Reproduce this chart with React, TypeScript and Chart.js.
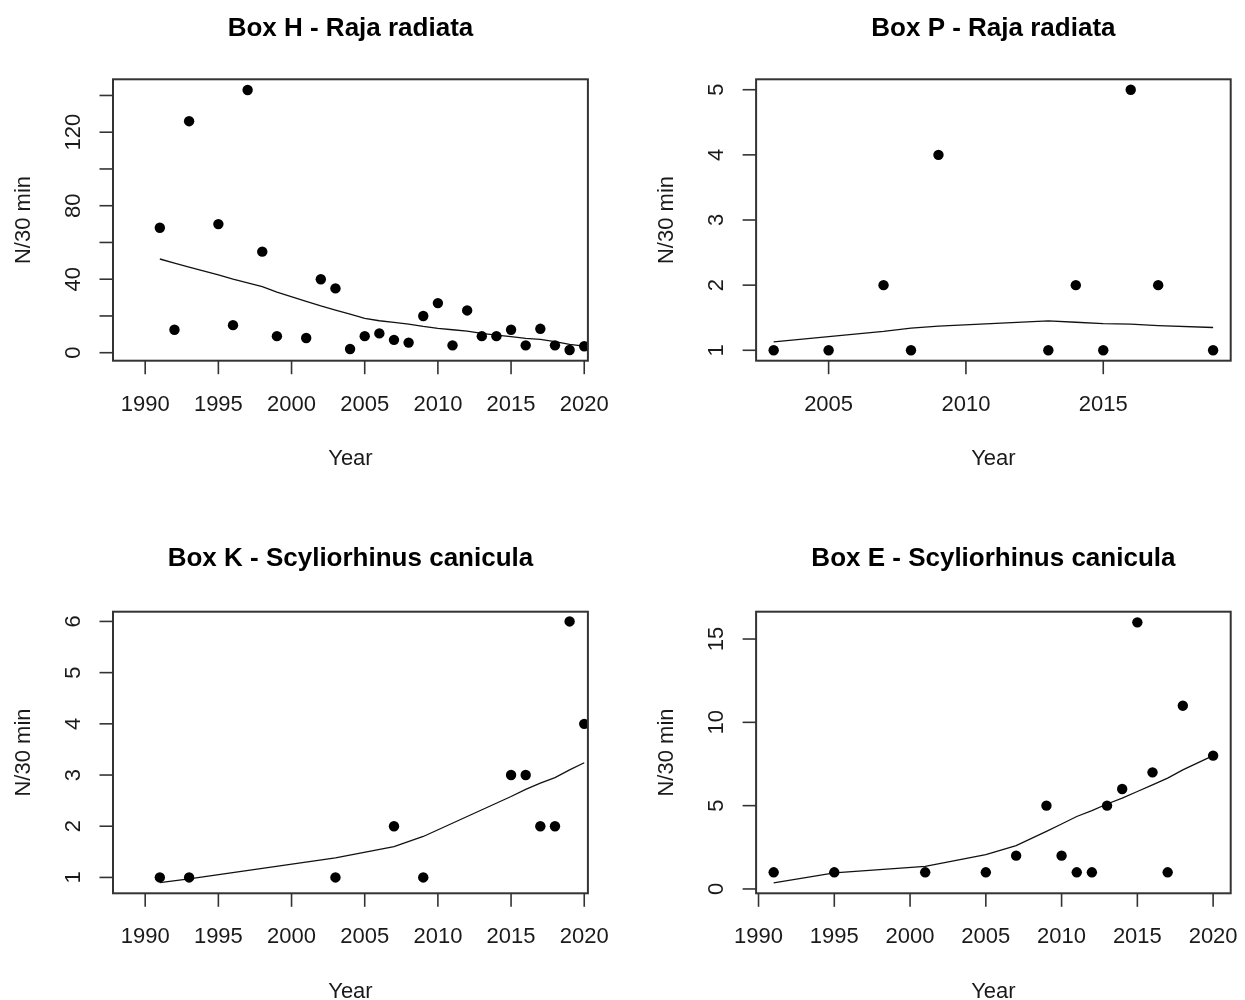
import React, { useEffect, useRef } from "react";
import { Chart, registerables } from "chart.js";
Chart.register(...registerables);

// ---------- Data ----------
// Box H - Raja radiata
const hYears = [1991, 1992, 1993, 1995, 1996, 1997, 1998, 1999, 2001, 2002, 2003, 2004, 2005, 2006, 2007, 2008, 2009, 2010, 2011, 2012, 2013, 2014, 2015, 2016, 2017, 2018, 2019, 2020];
const hCounts = [68, 12.5, 126, 70, 15, 143, 55, 9, 8, 40, 35, 2, 9, 10.5, 7, 5.5, 20, 27, 4, 23, 9, 9, 12.5, 4, 13, 4, 1.5, 3.5];
const hTrend = [51, 48.8, 46.6, 42.3, 40, 38, 36, 33, 28, 25.5, 23.2, 21, 18.7, 17.4, 16.5, 15.6, 14.3, 13.2, 12.5, 11.8, 10.5, 9.6, 8.7, 7.8, 7.3, 6, 4.5, 3.6];

// Box P - Raja radiata
const pYears = [2003, 2005, 2007, 2008, 2009, 2013, 2014, 2015, 2016, 2017, 2019];
const pCounts = [1, 1, 2, 1, 4, 1, 2, 1, 5, 2, 1];
const pTrend = [1.13, 1.21, 1.29, 1.34, 1.37, 1.45, 1.43, 1.41, 1.4, 1.38, 1.35];

// Box K - Scyliorhinus canicula
const kYears = [1991, 1993, 2003, 2007, 2009, 2015, 2016, 2017, 2018, 2019, 2020];
const kCounts = [1, 1, 1, 2, 1, 3, 3, 2, 2, 6, 4];
const kTrend = [0.9, 0.97, 1.38, 1.6, 1.8, 2.58, 2.72, 2.84, 2.95, 3.1, 3.24];

// Box E - Scyliorhinus canicula
const eYears = [1991, 1995, 2001, 2005, 2007, 2009, 2010, 2011, 2012, 2013, 2014, 2015, 2016, 2017, 2018, 2020];
const eCounts = [1, 1, 1, 1, 2, 5, 2, 1, 1, 5, 6, 16, 7, 1, 11, 8];
const eTrend = [0.36, 0.96, 1.36, 2.06, 2.6, 3.46, 3.9, 4.35, 4.7, 5.1, 5.45, 5.85, 6.25, 6.65, 7.15, 8.0];

// Tick values
const longYearTicks = [1990, 1995, 2000, 2005, 2010, 2015, 2020];
const shortYearTicks = [2005, 2010, 2015];
const hYTicks = [0, 20, 40, 60, 80, 100, 120, 140];
const hYLabelled = [0, 40, 80, 120];
const pYTicks = [1, 2, 3, 4, 5];
const kYTicks = [1, 2, 3, 4, 5, 6];
const eYTicks = [0, 5, 10, 15];

const titles = [
  "Box H - Raja radiata",
  "Box P - Raja radiata",
  "Box K - Scyliorhinus canicula",
  "Box E - Scyliorhinus canicula",
];
const xAxisTitle = "Year";
const yAxisTitle = "N/30 min";

// ---------- Panel layout ----------
type Panel = {
  title: string;
  years: number[];
  counts: number[];
  trend: number[];
  xMin: number; xMax: number; yMin: number; yMax: number;
  xTicks: number[]; yTicks: number[]; yLabelled: number[];
  left: number; top: number; width: number; height: number;
  pad: { left: number; top: number; right: number; bottom: number };
  titleGap: number;
};

const panels: Panel[] = [
  {
    title: titles[0], years: hYears, counts: hCounts, trend: hTrend,
    xMin: 1987.8, xMax: 2020.25, yMin: -4.35, yMax: 148.8,
    xTicks: longYearTicks, yTicks: hYTicks, yLabelled: hYLabelled,
    left: 0, top: 0, width: 622, height: 530,
    pad: { left: 113, top: 79.3, right: 34.1, bottom: 169.3 },
    titleGap: 43.6,
  },
  {
    title: titles[1], years: pYears, counts: pCounts, trend: pTrend,
    xMin: 2002.36, xMax: 2019.64, yMin: 0.84, yMax: 5.16,
    xTicks: shortYearTicks, yTicks: pYTicks, yLabelled: pYTicks,
    left: 622, top: 0, width: 623, height: 530,
    pad: { left: 134.1, top: 79.3, right: 14.3, bottom: 169.3 },
    titleGap: 43.6,
  },
  {
    title: titles[2], years: kYears, counts: kCounts, trend: kTrend,
    xMin: 1987.8, xMax: 2020.25, yMin: 0.69, yMax: 6.19,
    xTicks: longYearTicks, yTicks: kYTicks, yLabelled: kYTicks,
    left: 0, top: 530, width: 622, height: 470,
    pad: { left: 113, top: 81.7, right: 34.1, bottom: 106.7 },
    titleGap: 46,
  },
  {
    title: titles[3], years: eYears, counts: eCounts, trend: eTrend,
    xMin: 1989.84, xMax: 2021.16, yMin: -0.26, yMax: 16.64,
    xTicks: longYearTicks, yTicks: eYTicks, yLabelled: eYTicks,
    left: 622, top: 530, width: 623, height: 470,
    pad: { left: 134.1, top: 81.7, right: 14.3, bottom: 106.7 },
    titleGap: 46,
  },
];

const FONT = "'Liberation Sans', Arial, Helvetica, sans-serif";
const INK = "#1a1a1a";
const FRAME = "#333333";

function framePlugin(p: Panel) {
  return {
    id: "rframe",
    afterDraw(chart: any) {
      const ctx: CanvasRenderingContext2D = chart.ctx;
      const a = chart.chartArea;
      const xs = chart.scales.x;
      const ys = chart.scales.y;
      const cx = (a.left + a.right) / 2;
      const cy = (a.top + a.bottom) / 2;
      const tickLen = 13.5;
      ctx.save();
      // box
      ctx.strokeStyle = FRAME;
      ctx.lineWidth = 2;
      ctx.strokeRect(a.left, a.top, a.right - a.left, a.bottom - a.top);
      // x ticks
      ctx.lineWidth = 1.6;
      ctx.fillStyle = INK;
      ctx.font = `22px ${FONT}`;
      ctx.textAlign = "center";
      ctx.textBaseline = "alphabetic";
      for (const t of p.xTicks) {
        const x = xs.getPixelForValue(t);
        ctx.beginPath();
        ctx.moveTo(x, a.bottom);
        ctx.lineTo(x, a.bottom + tickLen);
        ctx.stroke();
        ctx.fillText(String(t), x, a.bottom + 50);
      }
      // y ticks
      for (const t of p.yTicks) {
        const y = ys.getPixelForValue(t);
        ctx.beginPath();
        ctx.moveTo(a.left, y);
        ctx.lineTo(a.left - tickLen, y);
        ctx.stroke();
        if (p.yLabelled.includes(t)) {
          ctx.save();
          ctx.translate(a.left - 33, y);
          ctx.rotate(-Math.PI / 2);
          ctx.fillText(String(t), 0, 0);
          ctx.restore();
        }
      }
      // axis titles
      ctx.fillText(xAxisTitle, cx, a.bottom + 104.3);
      ctx.save();
      ctx.translate(a.left - 83, cy);
      ctx.rotate(-Math.PI / 2);
      ctx.fillText(yAxisTitle, 0, 0);
      ctx.restore();
      // main title
      ctx.fillStyle = "#000";
      ctx.font = `bold 26px ${FONT}`;
      ctx.fillText(p.title, cx, a.top - p.titleGap);
      ctx.restore();
    },
  };
}

function PanelChart({ p }: { p: Panel }) {
  const ref = useRef<HTMLCanvasElement | null>(null);
  useEffect(() => {
    if (!ref.current) return;
    const points = p.years.map((yr, i) => ({ x: yr, y: p.counts[i] }));
    const fit = p.years.map((yr, i) => ({ x: yr, y: p.trend[i] }));
    const chart = new Chart(ref.current, {
      type: "scatter",
      data: {
        datasets: [
          {
            data: fit,
            showLine: true,
            borderColor: "#111",
            borderWidth: 1.3,
            pointRadius: 0,
            tension: 0,
            order: 2,
          } as any,
          {
            data: points,
            pointRadius: 5.2,
            pointBackgroundColor: "#000",
            pointBorderColor: "#000",
            pointBorderWidth: 0,
            showLine: false,
            order: 1,
          } as any,
        ],
      },
      options: {
        animation: false,
        responsive: false,
        devicePixelRatio: 1,
        layout: { padding: p.pad },
        plugins: { legend: { display: false }, tooltip: { enabled: false }, title: { display: false } },
        events: [],
        scales: {
          x: { type: "linear", min: p.xMin, max: p.xMax, display: false },
          y: { type: "linear", min: p.yMin, max: p.yMax, display: false },
        },
      },
      plugins: [framePlugin(p)],
    });
    return () => chart.destroy();
  }, [p]);
  return (
    <canvas
      ref={ref}
      width={p.width}
      height={p.height}
      style={{ position: "absolute", left: p.left, top: p.top, width: p.width, height: p.height }}
    />
  );
}

export default function App() {
  return (
    <div style={{ position: "absolute", left: 0, top: 0, width: 1245, height: 1000, background: "#fff" }}>
      {panels.map((p, i) => (
        <PanelChart key={i} p={p} />
      ))}
    </div>
  );
}
